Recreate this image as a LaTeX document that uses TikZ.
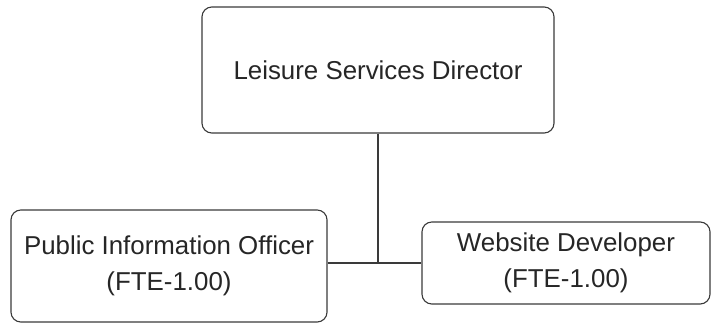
\documentclass[tikz,border=0pt]{standalone}
\usepackage{fontspec}
\setmainfont{Liberation Sans}
\usetikzlibrary{positioning, calc}
\definecolor{cline}{HTML}{3A3A3A}
\definecolor{ctext}{HTML}{262626}
\tikzset{
  every picture/.style={line width=0.8pt},
  post/.style={draw=cline, rounded corners=7pt, align=center, text=ctext, font=\fontsize{18.4}{25.5}\selectfont, inner sep=2pt},
  link/.style={draw=cline, line width=0.8pt},
}

\begin{document}
\begin{tikzpicture}
  \useasboundingbox (0,0) rectangle (17.775,8.1);
  % director on top, two posts below
  \node[post, minimum width=8.8cm, minimum height=3.15cm] (dir) at (9.45, 6.35) {Leisure Services Director};
  \node[post, minimum width=7.9cm, minimum height=2.8cm] (pio) at (4.225, 1.45) {Public Information Officer\\(FTE-1.00)};
  \node[post, minimum width=7.2cm, minimum height=2.05cm] (web) at (14.15, 1.525) {Website Developer\\(FTE-1.00)};
  \coordinate (joint) at (dir.south |- web.west);
  \draw[link] (dir.south) -- (joint);
  \draw[link] (pio.east |- joint) -- (web.west);
\end{tikzpicture}
\end{document}
